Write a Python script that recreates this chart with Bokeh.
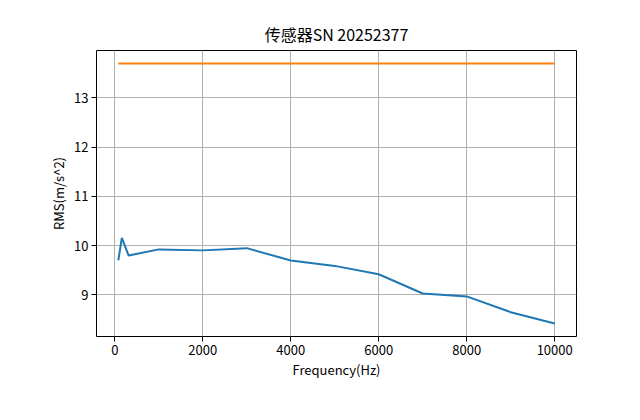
from bokeh.plotting import figure
from bokeh.embed import file_html
from bokeh.resources import INLINE
from bokeh.models import FixedTicker, Range1d

freq = [80, 160, 315, 1000, 2000, 3000, 4000, 5000, 6000, 7000, 8000, 9000, 10000]
rms = [9.70, 10.16, 9.80, 9.925, 9.905, 9.95, 9.70, 9.59, 9.42, 9.03, 8.97, 8.65, 8.42]
limit = [13.70] * len(freq)
x_ticks = [0, 2000, 4000, 6000, 8000, 10000]
y_ticks = [9, 10, 11, 12, 13]

FONT = "Noto Sans CJK SC"

p = figure(width=624, height=404, output_backend="svg", toolbar_location=None,
           title="传感器SN 20252377",
           x_range=Range1d(-416, 10496), y_range=Range1d(8.156, 13.964),
           min_border_left=96, min_border_right=48, min_border_top=50, min_border_bottom=68)

p.line(freq, rms, line_color="#1f77b4", line_width=2)
p.line(freq, limit, line_color="#ff7f0e", line_width=2)

p.title.align = "center"
p.title.text_font = FONT
p.title.text_font_size = "16px"
p.title.text_font_style = "normal"
p.title.text_color = "black"

p.xaxis.axis_label = "Frequency(Hz)"
p.yaxis.axis_label = "RMS(m/s^2)"
for ax in (p.xaxis, p.yaxis):
    ax.axis_label_text_font = FONT
    ax.axis_label_text_font_size = "13px"
    ax.axis_label_text_font_style = "normal"
    ax.axis_label_text_color = "black"
    ax.major_label_text_font = FONT
    ax.major_label_text_font_size = "13px"
    ax.major_label_text_color = "black"
    ax.axis_line_color = None
    ax.major_tick_line_color = "black"
    ax.major_tick_out = 5
    ax.major_tick_in = 0
    ax.minor_tick_line_color = None
    ax.major_label_standoff = 3

p.xaxis.axis_label_standoff = 2
p.yaxis.axis_label_standoff = 3

p.xaxis.ticker = FixedTicker(ticks=x_ticks)
p.yaxis.ticker = FixedTicker(ticks=y_ticks)

p.xgrid.ticker = FixedTicker(ticks=x_ticks)
p.ygrid.ticker = FixedTicker(ticks=y_ticks)
p.grid.grid_line_color = "#b0b0b0"
p.grid.grid_line_width = 1

p.outline_line_color = "black"
p.outline_line_width = 1
p.outline_line_alpha = 1

open("out.html", "w").write(file_html(p, INLINE))
